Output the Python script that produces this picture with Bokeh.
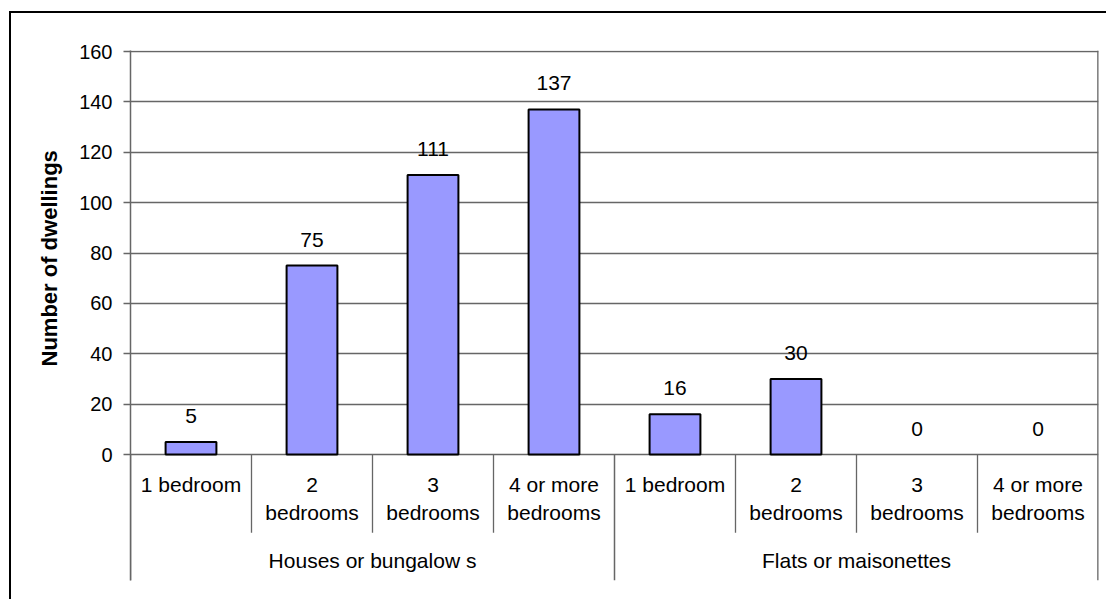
from bokeh.plotting import figure
from bokeh.models import FactorRange, Range1d, FixedTicker, ColumnDataSource, Title, CDSView, BooleanFilter
from bokeh.embed import file_html
from bokeh.resources import INLINE
from bokeh.core.properties import value

# ---- data -------------------------------------------------------------
groups = ["Houses or bungalow s", "Flats or maisonettes"]
bedrooms = ["1 bedroom", "2 bedrooms", "3 bedrooms", "4 or more bedrooms"]
bedroom_labels = ["1 bedroom", "2\nbedrooms", "3\nbedrooms", "4 or more\nbedrooms"]
houses = [5, 75, 111, 137]
flats = [16, 30, 0, 0]
y_ticks = [0, 20, 40, 60, 80, 100, 120, 140, 160]
y_title = "Number of dwellings"

factors = [(g, b) for g in groups for b in bedrooms]
counts = houses + flats

FONT = "Liberation Sans"
LINE = "#666666"
BAR = "#9999FF"

p = figure(
    x_range=FactorRange(*factors, group_padding=0, factor_padding=0, range_padding=0),
    y_range=Range1d(-50, 160.4),
    frame_width=968, frame_height=530,
    min_border_left=119, min_border_right=8, min_border_top=37, min_border_bottom=19,
    x_axis_location=None, output_backend="svg", toolbar_location=None,
    background_fill_color="white", border_fill_color="white", outline_line_color=None,
)
p.styles = {"border-top": "2px solid #000", "border-left": "2px solid #000"}
p.margin = (11, 0, 0, 9)

# y axis: ticks only over the counting range, line runs the full height
ax = p.yaxis[0]
ax.ticker = FixedTicker(ticks=y_ticks)
ax.minor_tick_line_color = None
ax.major_tick_in = 0
ax.major_tick_out = 7
ax.major_tick_line_color = LINE
ax.major_tick_line_width = 1.3
ax.axis_line_color = LINE
ax.axis_line_width = 1.5
ax.major_label_standoff = 11
ax.major_label_text_font = FONT
ax.major_label_text_font_size = "20px"
ax.major_label_text_color = "black"

p.ygrid.ticker = FixedTicker(ticks=y_ticks)
p.ygrid.grid_line_color = LINE
p.ygrid.grid_line_width = 1.3
p.xgrid.grid_line_color = None

p.add_layout(Title(text=y_title, align="left", offset=214, standoff=30,
                   text_font=FONT, text_font_size="22px", text_font_style="bold",
                   text_color="black"), "left")

# ---- bars and value labels ---------------------------------------------
src = ColumnDataSource(dict(x=factors, top=counts, label=[str(c) for c in counts]))
nonzero = CDSView(filter=BooleanFilter([c > 0 for c in counts]))
p.vbar(x="x", top="top", bottom=0, width=0.42, source=src, view=nonzero,
       fill_color=BAR, line_color="black", line_width=2)
p.text(x="x", y="top", text="label", source=src, text_align="center",
       text_baseline="alphabetic", y_offset=-26, text_font=value(FONT),
       text_font_size="21px", text_color="black")

# ---- category axis drawn under the zero line ----------------------------
sub_edges = [(g, b, -0.5) for g in groups for b in bedrooms[1:]]
p.segment(x0=sub_edges, y0=0, x1=sub_edges, y1=-31, line_color=LINE, line_width=1.3)

group_edges = [(g, bedrooms[0], -0.5) for g in groups]
p.segment(x0=group_edges, y0=0, x1=group_edges, y1=-50, line_color=LINE, line_width=1.5)
end_edge = [(groups[-1], bedrooms[-1], 0.5)]
p.segment(x0=end_edge, y0=-50, x1=end_edge, y1=160.4, line_color=LINE, line_width=2.6)

p.text(x=factors, y=0, text=bedroom_labels * len(groups), y_offset=18,
       text_align="center", text_baseline="top", text_line_height=1.22,
       text_font=value(FONT), text_font_size="21px", text_color="black")

group_mid = [(g, bedrooms[1], 0.5) for g in groups]
p.text(x=group_mid, y=0, text=groups, y_offset=106, text_align="center",
       text_baseline="alphabetic", text_font=value(FONT), text_font_size="21px",
       text_color="black")

open("out.html", "w").write(file_html(p, INLINE))
